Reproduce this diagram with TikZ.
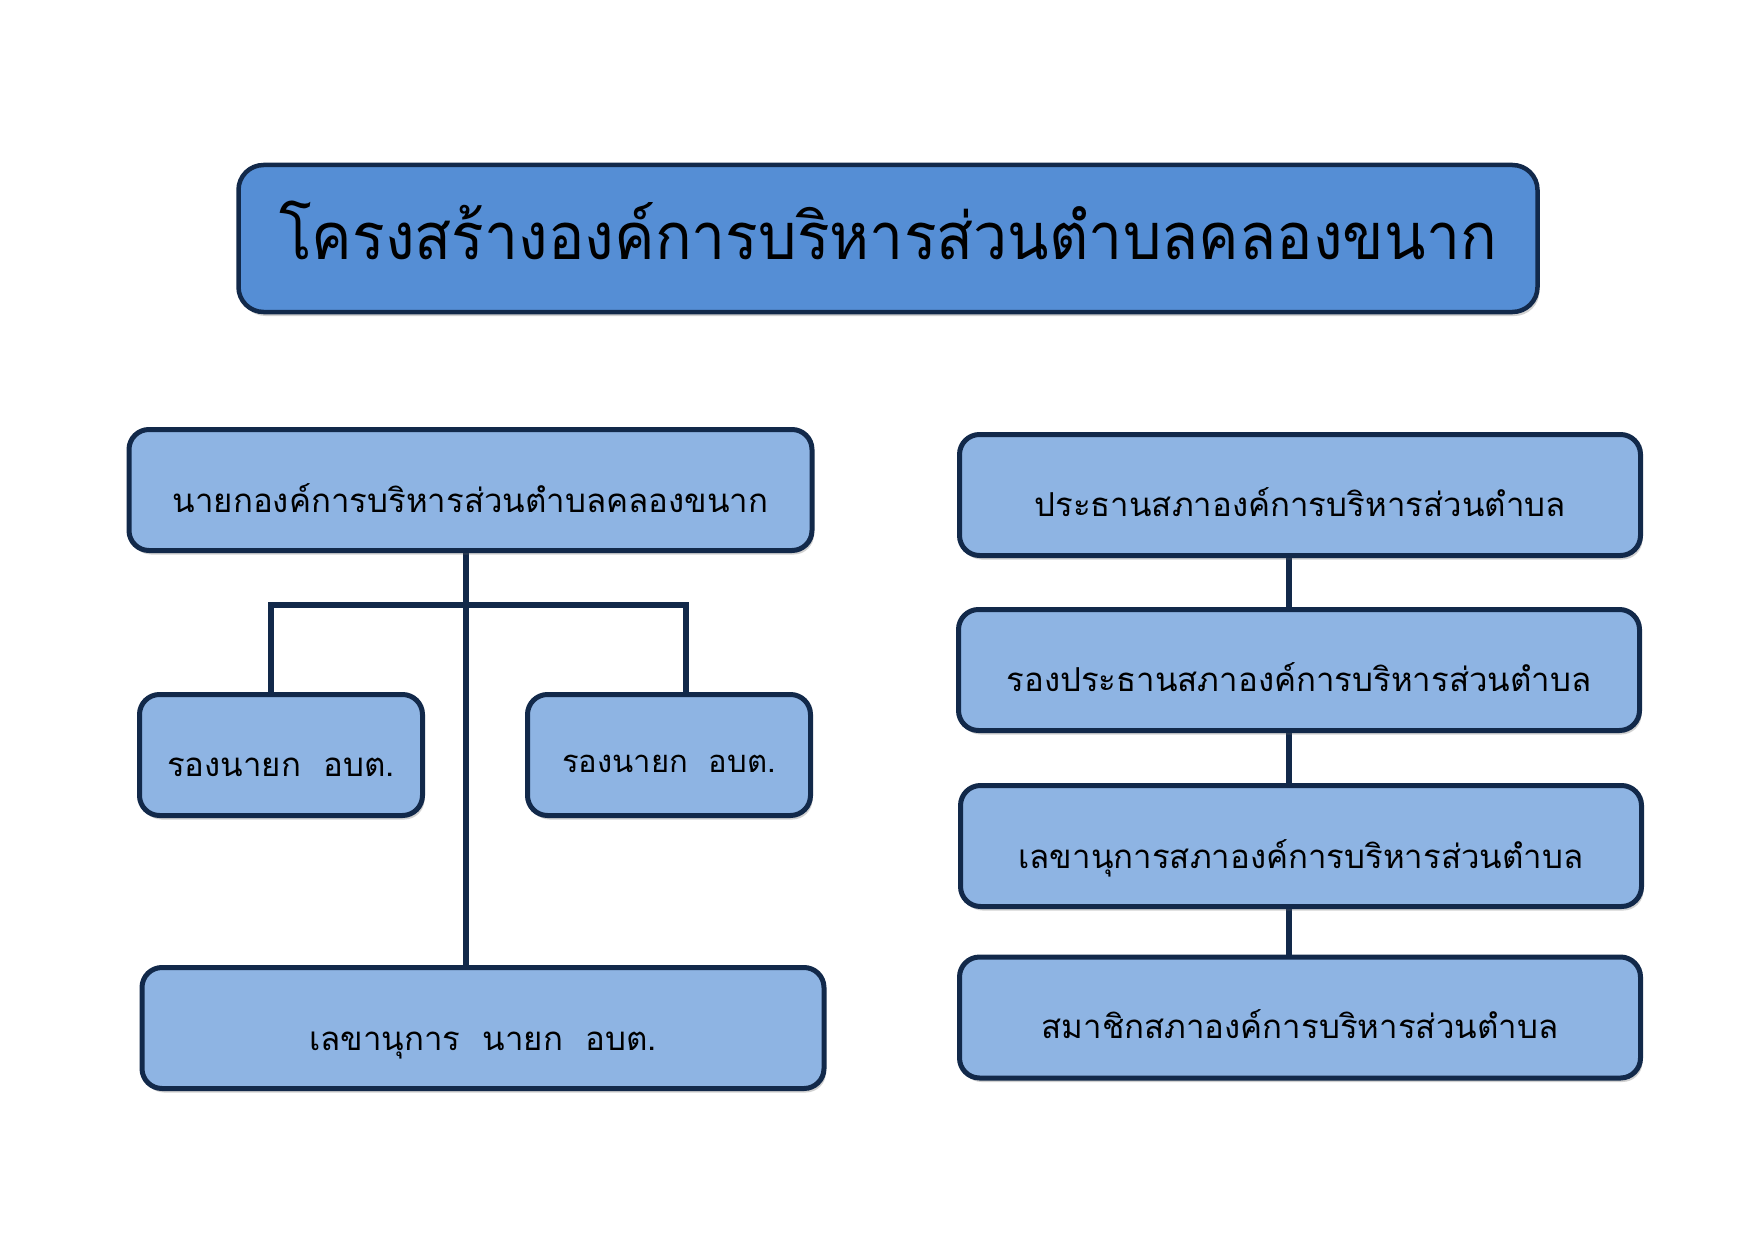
\documentclass[tikz,border=0pt]{standalone}
\usepackage{fontspec}
\newfontfamily\thaifont[Script=Thai]{Loma}
\usetikzlibrary{shadows,backgrounds}
\definecolor{navy}{HTML}{12294A}
\definecolor{titlefill}{HTML}{558ED5}
\definecolor{boxfill}{HTML}{8EB4E3}
\tikzset{
  box/.style={draw=navy, line width=5pt, rounded corners=20pt, fill=boxfill,
    inner sep=0pt, outer sep=0pt, align=center, font=\thaifont\fontsize{33}{36}\selectfont,
    text depth=0pt,
    drop shadow={shadow xshift=2pt, shadow yshift=-4pt, opacity=0.3, fill=black!60}},
  titlebox/.style={box, fill=titlefill, rounded corners=25pt, line width=4.5pt,
    font=\thaifont\fontsize{65}{70}\selectfont},
  conn/.style={draw=navy, line width=6pt}
}
\begin{document}
\begin{tikzpicture}[x=1pt,y=-1pt]
\useasboundingbox (0,0) rectangle (1755,1241);
% title
\node[titlebox, minimum width=1299pt, minimum height=147pt, text height=42pt] (title) at (888,238.5)
  {\scalebox{0.935}[1]{โครงสร้างองค์การบริหารส่วนตำบลคลองขนาก}};
% left column
\node[box, minimum width=683pt, minimum height=121pt, text height=44pt] (ltop) at (470.5,490)
  {นายกองค์การบริหารส่วนตำบลคลองขนาก};
\node[box, minimum width=283pt, minimum height=121pt, text height=42pt] (lva) at (281,755)
  {รองนายก\ \ อบต.};
\node[box, minimum width=283pt, minimum height=121pt, text height=34pt, font=\thaifont\fontsize{31}{34}\selectfont] (lvb) at (669,755)
  {รองนายก\ \ อบต.};
\node[box, minimum width=682pt, minimum height=121pt, text height=44pt] (lbot) at (483,1028)
  {เลขานุการ\ \ นายก\ \ อบต.};
% right column
\node[box, minimum width=681pt, minimum height=121pt, text height=42pt] (rb1) at (1300,495)
  {ประธานสภาองค์การบริหารส่วนตำบล};
\node[box, minimum width=681pt, minimum height=121pt, text height=42pt] (rb2) at (1299,670)
  {รองประธานสภาองค์การบริหารส่วนตำบล};
\node[box, minimum width=681pt, minimum height=121pt, text height=44pt] (rb3) at (1301,846)
  {เลขานุการสภาองค์การบริหารส่วนตำบล};
\node[box, minimum width=681pt, minimum height=121pt, text height=41pt] (rb4) at (1300,1017.5)
  {สมาชิกสภาองค์การบริหารส่วนตำบล};
% connectors
\coordinate (trunk) at (466,0);
\coordinate (barL) at (271,605);
\coordinate (barR) at (686,605);
\coordinate (rc) at (1289,0);
\begin{scope}[on background layer]
\draw[conn] (ltop.south -| trunk) -- (lbot.north -| trunk);
\draw[conn] (lva.north -| barL) -- (barL) -- (barR) -- (lvb.north -| barR);
\draw[conn] (rb1.south -| rc) -- (rb2.north -| rc);
\draw[conn] (rb2.south -| rc) -- (rb3.north -| rc);
\draw[conn] (rb3.south -| rc) -- (rb4.north -| rc);
\end{scope}
\end{tikzpicture}
\end{document}
